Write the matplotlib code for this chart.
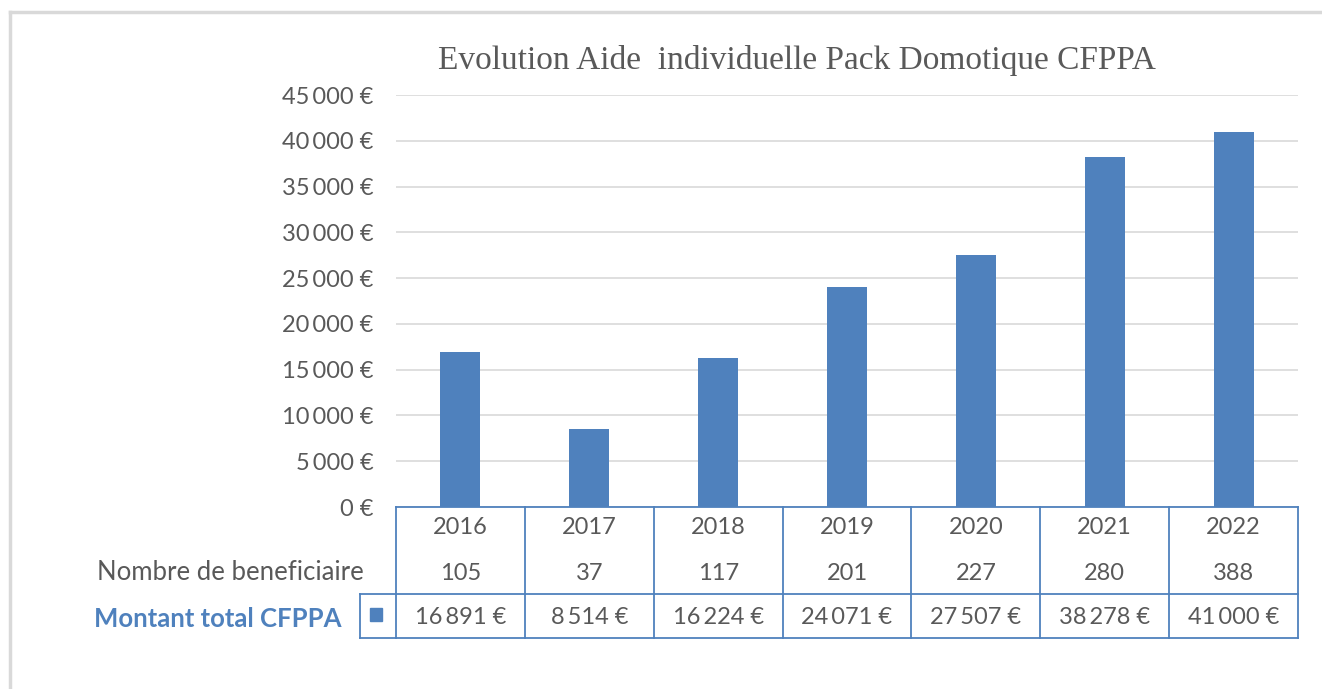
import matplotlib.pyplot as plt
import matplotlib.transforms as mtransforms
from matplotlib.lines import Line2D
from matplotlib.patches import Rectangle

years = ['2016', '2017', '2018', '2019', '2020', '2021', '2022']
beneficiaires = [105, 37, 117, 201, 227, 280, 388]
montants = [16891, 8514, 16224, 24071, 27507, 38278, 41000]
yticks = [0, 5000, 10000, 15000, 20000, 25000, 30000, 35000, 40000, 45000]

blue = '#4F81BD'
gray = '#595959'
narrow = ['Lato', 'DejaVu Sans']
fs = 17


def euro(v):
    if v == 0:
        return '0 €'
    return '{:,}'.format(v).replace(',', '\u2009') + ' €'


fig = plt.figure(figsize=(13.22, 6.89), dpi=100)
ax = fig.add_axes([396 / 1322, 1 - 507 / 689, (1298 - 396) / 1322, (507 - 95) / 689])

x = list(range(len(years)))
ax.bar(x, montants, width=0.31, color=blue, zorder=3)
ax.set_xlim(-0.5, len(years) - 0.5)
ax.set_ylim(0, 45000)
ax.set_yticks(yticks)
ax.set_yticklabels([euro(v) for v in yticks], family=narrow, fontsize=fs, color=gray)
ax.tick_params(axis='y', length=0, pad=16)
ax.set_xticks([])
ax.grid(axis='y', color='#D9D9D9', linewidth=1.2, zorder=0)
for s in ax.spines.values():
    s.set_visible(False)

fig.text(797 / 1322, 1 - 61 / 689, 'Evolution Aide  individuelle Pack Domotique CFPPA',
         family=['Liberation Serif'], fontsize=24, color=gray, ha='center', va='center')

# data table under the axis (pixel rows converted to axes fraction)
h = 507 - 95
def ay(py):
    return (507 - py) / h

trans = mtransforms.blended_transform_factory(ax.transData, ax.transAxes)
lw = 1.3
for i in range(len(years) + 1):
    ax.add_line(Line2D([i - 0.5, i - 0.5], [ay(507), ay(638)], transform=trans,
                       color=blue, lw=lw, clip_on=False))
ax.add_line(Line2D([-0.5, len(years) - 0.5], [ay(507), ay(507)], transform=trans,
                   color=blue, lw=lw, clip_on=False))
ax.add_line(Line2D([-0.5, len(years) - 0.5], [ay(638), ay(638)], transform=trans,
                   color=blue, lw=lw, clip_on=False))
# key cell on the left of the last row
axt = ax.transAxes
kx0 = (360 - 396) / (1298 - 396)
ax.add_line(Line2D([kx0, 1.0], [ay(594), ay(594)], transform=axt, color=blue, lw=lw, clip_on=False))
ax.add_line(Line2D([kx0, 0.0], [ay(638), ay(638)], transform=axt, color=blue, lw=lw, clip_on=False))
ax.add_line(Line2D([kx0, kx0], [ay(594), ay(638)], transform=axt, color=blue, lw=lw, clip_on=False))
ax.add_patch(Rectangle(((370 - 396) / (1298 - 396), ay(621)), 12 / (1298 - 396), 13 / h,
                       transform=axt, color=blue, clip_on=False))

for i in x:
    ax.text(i, ay(528), years[i], transform=trans, ha='center', va='center',
            family=narrow, fontsize=fs, color=gray)
    ax.text(i, ay(573), str(beneficiaires[i]), transform=trans, ha='center', va='center',
            family=narrow, fontsize=fs, color=gray)
    ax.text(i, ay(618), euro(montants[i]), transform=trans, ha='center', va='center',
            family=narrow, fontsize=fs, color=gray)

fig.text(364 / 1322, 1 - 572 / 689, 'Nombre de beneficiaire', ha='right', va='center',
         family=narrow, fontsize=18.5, color=gray)
fig.text(342 / 1322, 1 - 619 / 689, 'Montant total CFPPA', ha='right', va='center',
         family=narrow, fontsize=18.5, color=blue, fontweight='bold')

# light frame around the chart area
fig.add_artist(Line2D([10 / 1322, 1], [1 - 12 / 689, 1 - 12 / 689], color='#D9D9D9', lw=2.5))
fig.add_artist(Line2D([10 / 1322, 10 / 1322], [0, 1 - 12 / 689], color='#D9D9D9', lw=2.5))

fig.savefig('out.png', dpi=100)
